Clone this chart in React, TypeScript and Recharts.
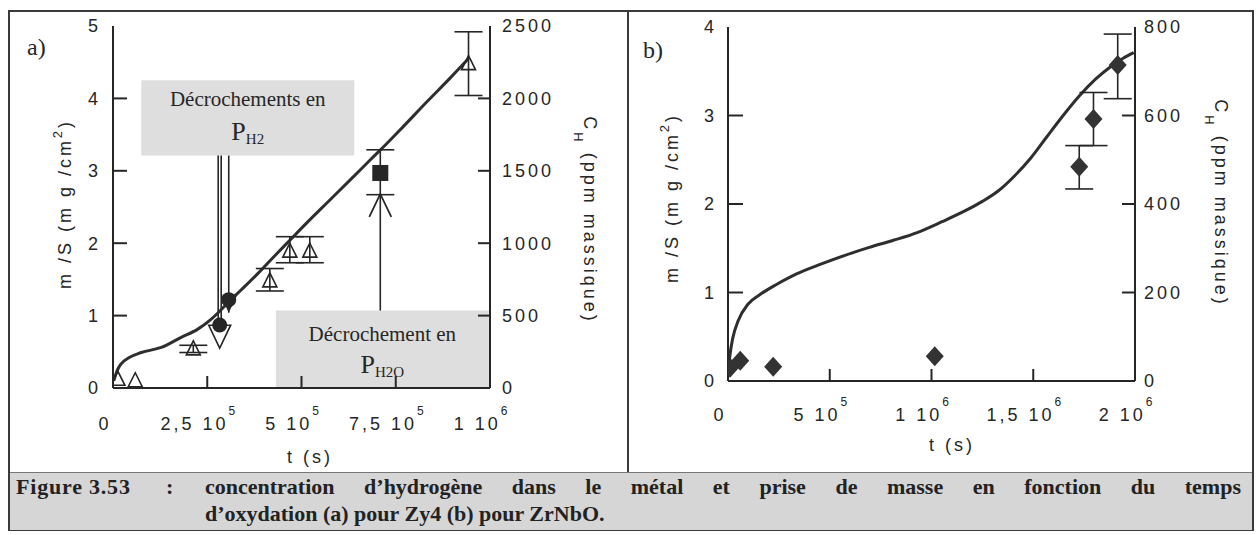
import React from "react";
import {
  ComposedChart,
  Line,
  Scatter,
  XAxis,
  YAxis,
  ErrorBar,
  ReferenceArea,
  ReferenceLine,
  ReferenceDot,
} from "recharts";

// ---------- a) Zy4 ----------
// mass gain curve m/S (mg/cm2) vs t (s)
const timeA = [2e3, 11e3, 21e3, 43e3, 75e3, 128e3, 181e3, 224e3, 256e3, 283e3, 309e3, 341e3, 384e3, 426e3, 469e3, 512e3, 576e3, 640e3, 682e3, 725e3, 768e3, 832e3, 896e3, 943e3];
const massA = [0.1, 0.24, 0.33, 0.42, 0.49, 0.56, 0.7, 0.81, 0.93, 1.06, 1.2, 1.36, 1.58, 1.81, 2.04, 2.27, 2.6, 2.93, 3.15, 3.37, 3.6, 3.95, 4.29, 4.55];

// hydrogen content C_H (ppm massique), open triangles
const triTimeA = [13e3, 59e3, 213e3, 416e3, 469e3, 522e3, 943e3];
const triPpmA = [60, 50, 270, 740, 945, 945, 2240];
const triErrLoA = [null, null, 25, 70, 80, 80, 220];
const triErrHiA = [null, null, 25, 85, 100, 100, 220];

// filled circles (P_H2 breakaway)
const circTimeA = [283e3, 307e3];
const circPpmA = [435, 610];

// filled square (P_H2O breakaway)
const sqTimeA = [709e3];
const sqPpmA = [1485];
const sqErrLoA = [150];
const sqErrHiA = [160];

const xTicksA = [0, 250000, 500000, 750000, 1000000];
const xLabelsA = ["0", "2,5 10", "5 10", "7,5 10", "1 10"];
const xExpA = ["", "5", "5", "5", "6"];
const yTicksA = [0, 1, 2, 3, 4, 5];
const rTicksA = [0, 500, 1000, 1500, 2000, 2500];

// ---------- b) ZrNbO ----------
const timeB = [0, 10e3, 24e3, 50e3, 99e3, 159e3, 238e3, 337e3, 456e3, 575e3, 694e3, 813e3, 933e3, 1052e3, 1171e3, 1250e3, 1329e3, 1409e3, 1488e3, 1567e3, 1647e3, 1726e3, 1806e3, 1885e3, 1944e3, 1994e3];
const massB = [0.075, 0.3, 0.49, 0.68, 0.87, 0.98, 1.09, 1.21, 1.32, 1.42, 1.51, 1.59, 1.68, 1.8, 1.93, 2.03, 2.15, 2.32, 2.52, 2.76, 3.0, 3.22, 3.41, 3.56, 3.65, 3.71];

const diaTimeB = [10e3, 60e3, 222e3, 1016e3, 1726e3, 1796e3, 1915e3];
const diaPpmB = [30, 46, 32, 56, 484, 592, 714];
const diaErrLoB = [null, null, null, null, 50, 60, 76];
const diaErrHiB = [null, null, null, null, 48, 60, 70];

const xTicksB = [0, 500000, 1000000, 1500000, 2000000];
const xLabelsB = ["0", "5 10", "1 10", "1,5 10", "2 10"];
const xExpB = ["", "5", "6", "6", "6"];
const yTicksB = [0, 1, 2, 3, 4];
const rTicksB = [0, 200, 400, 600, 800];

// ---------- tables for recharts ----------
const curveA = timeA.map((t, i) => ({ t, m: massA[i] }));
const triA = triTimeA.map((t, i) => ({
  t,
  c: triPpmA[i],
  err: triErrLoA[i] == null ? undefined : [triErrLoA[i], triErrHiA[i]],
}));
const circA = circTimeA.map((t, i) => ({ t, c: circPpmA[i] }));
const sqA = sqTimeA.map((t, i) => ({ t, c: sqPpmA[i], err: [sqErrLoA[i], sqErrHiA[i]] }));

const curveB = timeB.map((t, i) => ({ t, m: massB[i] }));
const diaB = diaTimeB.map((t, i) => ({
  t,
  c: diaPpmB[i],
  err: diaErrLoB[i] == null ? undefined : [diaErrLoB[i], diaErrHiB[i]],
}));

const INK = "#262626";
const SANS = "'Liberation Sans', Arial, sans-serif";
const SERIF = "'Liberation Serif', 'Times New Roman', serif";
const tickFont = { fontFamily: SANS, fontSize: 18, letterSpacing: 3, fill: INK };
const axisLine = { stroke: INK, strokeWidth: 2 };

// ---------- ticks (drawn inward, like the original plot) ----------
const LeftTick = (props: any) => {
  const { x, y, payload, ticks, gap, len } = props;
  const i = ticks.indexOf(payload.value);
  const inner = i > 0 && i < ticks.length - 1;
  return (
    <g>
      {inner && <line x1={x} x2={x + len} y1={y} y2={y} stroke={INK} strokeWidth={2} />}
      <text x={x - gap} y={y} dy="0.36em" textAnchor="end" {...tickFont}>
        {payload.value}
      </text>
    </g>
  );
};

const RightTick = (props: any) => {
  const { x, y, payload, ticks, gap, len } = props;
  const i = ticks.indexOf(payload.value);
  const inner = i > 0 && i < ticks.length - 1;
  return (
    <g>
      {inner && <line x1={x} x2={x - len} y1={y} y2={y} stroke={INK} strokeWidth={2} />}
      <text x={x + gap} y={y} dy="0.36em" textAnchor="start" {...tickFont}>
        {payload.value}
      </text>
    </g>
  );
};

const BottomTick = (props: any) => {
  const { x, y, payload, ticks, labels, exps, base } = props;
  const i = ticks.indexOf(payload.value);
  const inner = i > 0 && i < ticks.length - 1;
  return (
    <g>
      {inner && <line x1={x} x2={x} y1={y} y2={y - 12} stroke={INK} strokeWidth={2} />}
      <text x={x - 8} y={y + base} textAnchor="middle" {...tickFont}>
        {labels[i]}
        {exps[i] ? (
          <tspan dy={-15} fontSize={12}>
            {exps[i]}
          </tspan>
        ) : null}
      </text>
    </g>
  );
};

const TopTick = (props: any) => {
  const { x, y, payload, ticks } = props;
  const i = ticks.indexOf(payload.value);
  if (i <= 0 || i >= ticks.length - 1) return <g />;
  return <line x1={x} x2={x} y1={y} y2={y + 13} stroke={INK} strokeWidth={2} />;
};

// ---------- markers ----------
const OpenTriangle = (p: any) => (
  <polygon
    points={`${p.cx},${p.cy - 8} ${p.cx - 7},${p.cy + 6} ${p.cx + 7},${p.cy + 6}`}
    fill="none"
    stroke={INK}
    strokeWidth={1.6}
  />
);
const FilledCircle = (p: any) => <circle cx={p.cx} cy={p.cy} r={7.5} fill={INK} />;
const FilledSquare = (p: any) => <rect x={p.cx - 8} y={p.cy - 8} width={16} height={16} fill={INK} />;
const Diamond = (p: any) => (
  <polygon
    points={`${p.cx},${p.cy - 10} ${p.cx + 9},${p.cy} ${p.cx},${p.cy + 10} ${p.cx - 9},${p.cy}`}
    fill="#333"
  />
);

// arrow heads for the annotations
const OpenHeadDown = (p: any) => (
  <polygon
    points={`${p.cx - 11},${p.cy - 23} ${p.cx},${p.cy} ${p.cx + 11},${p.cy - 23}`}
    fill="#fff"
    stroke={INK}
    strokeWidth={1.6}
  />
);
const FilledHeadDown = (p: any) => (
  <polygon points={`${p.cx - 8},${p.cy - 17} ${p.cx},${p.cy} ${p.cx + 8},${p.cy - 17}`} fill={INK} />
);
const OpenHeadUp = (p: any) => (
  <polyline
    points={`${p.cx - 11},${p.cy + 23} ${p.cx},${p.cy} ${p.cx + 11},${p.cy + 23}`}
    fill="none"
    stroke={INK}
    strokeWidth={1.8}
  />
);

const BoxText = ({ viewBox, line1, sub, dy1, dy2 }: any) => {
  if (!viewBox) return null;
  const cx = viewBox.x + viewBox.width / 2;
  return (
    <g>
      <text x={cx} y={viewBox.y + dy1} textAnchor="middle" fontFamily={SERIF} fontSize={21} fill={INK}>
        {line1}
      </text>
      <text x={cx} y={viewBox.y + dy2} textAnchor="middle" fontFamily={SERIF} fontSize={26} fill={INK}>
        P
        <tspan fontSize={15} dy={4}>
          {sub}
        </tspan>
      </text>
    </g>
  );
};

// annotation geometry, in data units (t, m/S)
const boxH2 = { t1: 75e3, t2: 640e3, m1: 3.21, m2: 4.25 };
const boxH2O = { t1: 432e3, t2: 997e3, m1: 0.01, m2: 1.07 };
const shaftsA = [
  { t: 279e3, from: 3.21, to: 0.6 },
  { t: 287e3, from: 3.21, to: 0.6 },
  { t: 307e3, from: 3.21, to: 1.04 },
  { t: 709e3, from: 1.07, to: 2.68 },
];

const PanelA = () => (
  <ComposedChart width={630} height={470} margin={{ top: 26, right: 80, bottom: 42, left: 73 }}>
    <XAxis
      dataKey="t"
      type="number"
      domain={[0, 1000000]}
      ticks={xTicksA}
      allowDataOverflow
      height={40}
      tickSize={0}
      tickMargin={0}
      tickLine={false}
      axisLine={axisLine}
      tick={(p: any) => <BottomTick {...p} ticks={xTicksA} labels={xLabelsA} exps={xExpA} base={42} />}
    />
    <XAxis
      xAxisId="top"
      orientation="top"
      dataKey="t"
      type="number"
      domain={[0, 1000000]}
      ticks={xTicksA}
      allowDataOverflow
      height={0}
      tickSize={0}
      tickMargin={0}
      tickLine={false}
      axisLine={axisLine}
      tick={(p: any) => <TopTick {...p} ticks={xTicksA} />}
    />
    <YAxis
      yAxisId="l"
      type="number"
      domain={[0, 5]}
      ticks={yTicksA}
      allowDataOverflow
      width={40}
      tickSize={0}
      tickMargin={0}
      tickLine={false}
      axisLine={axisLine}
      tick={(p: any) => <LeftTick {...p} ticks={yTicksA} gap={12} len={14} />}
    />
    <YAxis
      yAxisId="r"
      orientation="right"
      type="number"
      domain={[0, 2500]}
      ticks={rTicksA}
      allowDataOverflow
      width={60}
      tickSize={0}
      tickMargin={0}
      tickLine={false}
      axisLine={axisLine}
      tick={(p: any) => <RightTick {...p} ticks={rTicksA} gap={12} len={12} />}
    />
    <ReferenceArea
      yAxisId="l"
      x1={boxH2.t1}
      x2={boxH2.t2}
      y1={boxH2.m1}
      y2={boxH2.m2}
      fill="#dedede"
      fillOpacity={1}
      stroke="none"
      label={<BoxText line1="Décrochements en" sub="H2" dy1={26} dy2={60} />}
    />
    <ReferenceArea
      yAxisId="l"
      x1={boxH2O.t1}
      x2={boxH2O.t2}
      y1={boxH2O.m1}
      y2={boxH2O.m2}
      fill="#dedede"
      fillOpacity={1}
      stroke="none"
      label={<BoxText line1="Décrochement en" sub="H2O" dy1={30} dy2={62} />}
    />
    {shaftsA.map((s, i) => (
      <ReferenceLine
        key={i}
        yAxisId="l"
        segment={[
          { x: s.t, y: s.from },
          { x: s.t, y: s.to },
        ]}
        stroke={INK}
        strokeWidth={1.6}
      />
    ))}
    <ReferenceDot yAxisId="l" x={283e3} y={0.55} shape={(p: any) => <OpenHeadDown {...p} />} />
    <ReferenceDot yAxisId="l" x={307e3} y={1.04} shape={(p: any) => <FilledHeadDown {...p} />} />
    <ReferenceDot yAxisId="l" x={709e3} y={2.68} shape={(p: any) => <OpenHeadUp {...p} />} />
    <Line
      yAxisId="l"
      data={curveA}
      dataKey="m"
      type="monotone"
      stroke="#2e2e2e"
      strokeWidth={3}
      dot={false}
      isAnimationActive={false}
    />
    <Scatter yAxisId="r" data={triA} dataKey="c" shape={OpenTriangle} isAnimationActive={false}>
      <ErrorBar dataKey="err" direction="y" width={14} stroke={INK} strokeWidth={1.6} />
    </Scatter>
    <Scatter yAxisId="r" data={circA} dataKey="c" shape={FilledCircle} isAnimationActive={false} />
    <Scatter yAxisId="r" data={sqA} dataKey="c" shape={FilledSquare} isAnimationActive={false}>
      <ErrorBar dataKey="err" direction="y" width={14} stroke={INK} strokeWidth={1.6} />
    </Scatter>
  </ComposedChart>
);

const PanelB = () => (
  <ComposedChart width={630} height={470} margin={{ top: 27, right: 63, bottom: 49, left: 60 }}>
    <XAxis
      dataKey="t"
      type="number"
      domain={[0, 2000000]}
      ticks={xTicksB}
      allowDataOverflow
      height={40}
      tickSize={0}
      tickMargin={0}
      tickLine={false}
      axisLine={axisLine}
      tick={(p: any) => <BottomTick {...p} ticks={xTicksB} labels={xLabelsB} exps={xExpB} base={40} />}
    />
    <XAxis
      xAxisId="top"
      orientation="top"
      dataKey="t"
      type="number"
      domain={[0, 2000000]}
      ticks={xTicksB}
      allowDataOverflow
      height={0}
      tickSize={0}
      tickMargin={0}
      tickLine={false}
      axisLine={axisLine}
      tick={(p: any) => <TopTick {...p} ticks={xTicksB} />}
    />
    <YAxis
      yAxisId="l"
      type="number"
      domain={[0, 4]}
      ticks={yTicksB}
      allowDataOverflow
      width={40}
      tickSize={0}
      tickMargin={0}
      tickLine={false}
      axisLine={axisLine}
      tick={(p: any) => <LeftTick {...p} ticks={yTicksB} gap={11} len={15} />}
    />
    <YAxis
      yAxisId="r"
      orientation="right"
      type="number"
      domain={[0, 800]}
      ticks={rTicksB}
      allowDataOverflow
      width={60}
      tickSize={0}
      tickMargin={0}
      tickLine={false}
      axisLine={axisLine}
      tick={(p: any) => <RightTick {...p} ticks={rTicksB} gap={9} len={13} />}
    />
    <Line
      yAxisId="l"
      data={curveB}
      dataKey="m"
      type="monotone"
      stroke="#2e2e2e"
      strokeWidth={3}
      dot={false}
      isAnimationActive={false}
    />
    <Scatter yAxisId="r" data={diaB} dataKey="c" shape={Diamond} isAnimationActive={false}>
      <ErrorBar dataKey="err" direction="y" width={14} stroke={INK} strokeWidth={1.6} />
    </Scatter>
  </ComposedChart>
);

const titleFont = { fontFamily: SANS, fontSize: 18, letterSpacing: 3, fill: INK };
const captionFont = {
  position: "absolute" as const,
  fontFamily: SERIF,
  fontWeight: 700,
  fontSize: 22,
  color: "#222",
  whiteSpace: "nowrap" as const,
};

export default function App() {
  return (
    <div style={{ position: "relative", width: 1258, height: 535, background: "#fff", overflow: "hidden" }}>
      <style>{`body{margin:0}`}</style>
      {/* figure frame and panel divider */}
      <div
        style={{
          position: "absolute",
          left: 8,
          top: 10,
          width: 1246,
          height: 521,
          border: "2px solid #3a3a3a",
          boxSizing: "border-box",
        }}
      />
      <div style={{ position: "absolute", left: 627, top: 10, width: 2, height: 462, background: "#3a3a3a" }} />
      {/* caption band */}
      <div
        style={{
          position: "absolute",
          left: 10,
          top: 472,
          width: 1242,
          height: 57,
          background: "#d6d6d6",
          borderTop: "1px solid #777",
        }}
      />
      <div style={{ ...captionFont, left: 16, top: 474, letterSpacing: 0.8 }}>Figure 3.53</div>
      <div style={{ ...captionFont, left: 166, top: 474 }}>:</div>
      <div
        style={{
          ...captionFont,
          left: 205,
          top: 474,
          width: 1036,
          textAlign: "justify",
          textAlignLast: "justify",
        }}
      >
        concentration d’hydrogène dans le métal et prise de masse en fonction du temps
      </div>
      <div style={{ ...captionFont, left: 205, top: 501 }}>d’oxydation (a) pour Zy4 (b) pour ZrNbO.</div>

      <div style={{ position: "absolute", left: 0, top: 0 }}>
        <PanelA />
      </div>
      <div style={{ position: "absolute", left: 628, top: 0 }}>
        <PanelB />
      </div>

      {/* axis titles and panel letters */}
      <svg
        width={1258}
        height={535}
        style={{ position: "absolute", left: 0, top: 0, pointerEvents: "none" }}
      >
        <text x={27} y={55} fontFamily={SERIF} fontSize={24} fill={INK}>
          a)
        </text>
        <text transform="translate(71,204) rotate(-90)" textAnchor="middle" {...titleFont}>
          m /S (m g /cm
          <tspan dy={-9} fontSize={13}>
            2
          </tspan>
          <tspan dy={9}>)</tspan>
        </text>
        <text transform="translate(584,220) rotate(90)" textAnchor="middle" {...titleFont}>
          C
          <tspan dy={10} fontSize={13}>
            H
          </tspan>
          <tspan dy={-10}> (ppm massique)</tspan>
        </text>
        <text x={310} y={463} textAnchor="middle" {...titleFont}>
          t (s)
        </text>

        <text x={643} y={58} fontFamily={SERIF} fontSize={24} fill={INK}>
          b)
        </text>
        <text transform="translate(678,198) rotate(-90)" textAnchor="middle" {...titleFont}>
          m /S (m g /cm
          <tspan dy={-9} fontSize={13}>
            2
          </tspan>
          <tspan dy={9}>)</tspan>
        </text>
        <text transform="translate(1215,203) rotate(90)" textAnchor="middle" {...titleFont}>
          C
          <tspan dy={10} fontSize={13}>
            H
          </tspan>
          <tspan dy={-10}> (ppm massique)</tspan>
        </text>
        <text x={952} y={451} textAnchor="middle" {...titleFont}>
          t (s)
        </text>
      </svg>
    </div>
  );
}
